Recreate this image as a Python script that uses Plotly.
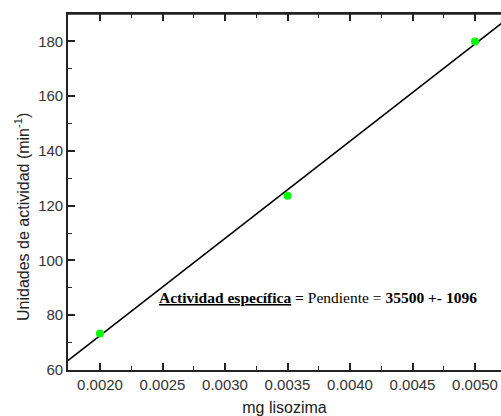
import plotly.graph_objects as go

# Data
mg_lisozima = [0.0020, 0.0035, 0.0050]
unidades = [73.3, 123.6, 180.0]

# Linear fit line endpoints (slope 35500)
fit_x = [0.00174, 0.00532]
fit_y = [63.3, 190.4]

x_ticks = [0.0020, 0.0025, 0.0030, 0.0035, 0.0040, 0.0045, 0.0050]
x_ticklabels = ["0.0020", "0.0025", "0.0030", "0.0035", "0.0040", "0.0045", "0.0050"]
y_ticks = [60, 80, 100, 120, 140, 160, 180]

X_RANGE = [0.001744, 0.005208]
Y_RANGE = [60, 190]

fig = go.Figure()
fig.add_trace(go.Scatter(x=fit_x, y=fit_y, mode="lines",
                         line=dict(color="black", width=1.6),
                         showlegend=False, hoverinfo="skip"))
fig.add_trace(go.Scatter(x=mg_lisozima, y=unidades, mode="markers",
                         marker=dict(color="#00ff00", size=8),
                         showlegend=False))

axis_font = dict(family="Liberation Sans", size=15, color="#333333")
title_font = dict(family="Liberation Sans", size=16, color="#222222")
AX = "#222222"

fig.update_layout(
    width=501, height=416,
    margin=dict(l=68, r=0, t=14, b=46),
    paper_bgcolor="white", plot_bgcolor="white",
    xaxis=dict(
        range=X_RANGE,
        tickvals=x_ticks, ticktext=x_ticklabels,
        ticks="inside", ticklen=7, tickwidth=1.5, tickcolor=AX,
        showline=True, linecolor=AX, linewidth=1.6, mirror="allticks",
        showgrid=False, zeroline=False,
        tickfont=axis_font,
        minor=dict(ticks="inside", ticklen=4, tickwidth=1.2, dtick=0.0005,
                   tick0=0.00225, tickcolor=AX, showgrid=False),
        title=dict(text="mg lisozima", font=title_font, standoff=12),
    ),
    yaxis=dict(
        range=Y_RANGE,
        tickvals=y_ticks,
        ticks="inside", ticklen=7, tickwidth=1.5, tickcolor=AX,
        showline=True, linecolor=AX, linewidth=1.6,
        showgrid=False, zeroline=False,
        tickfont=axis_font,
        minor=dict(ticks="inside", ticklen=4, tickwidth=1.2, dtick=20,
                   tick0=70, tickcolor=AX, showgrid=False),
    ),
)

# Top frame line of the plot box
fig.add_shape(type="line", xref="paper", yref="paper", x0=0, x1=1, y0=1, y1=1,
              line=dict(color=AX, width=1.6), layer="above")

# Y-axis title (placed as annotation to match the reference's vertical offset)
fig.add_annotation(
    x=(22 - 68) / 433, y=(370 - 217) / 356, xref="paper", yref="paper",
    xanchor="center", yanchor="middle", showarrow=False, textangle=-90,
    text="Unidades de actividad (min<sup>-1</sup>)",
    font=title_font,
)

fig.add_annotation(
    x=0.002456, y=86.4, xref="x", yref="y",
    xanchor="left", yanchor="middle", showarrow=False,
    text="<b><u>Actividad específica</u> =</b> Pendiente = <b>35500 +- 1096</b>",
    font=dict(family="Liberation Serif", size=15.5, color="black"),
)

fig.write_html("out.html")
